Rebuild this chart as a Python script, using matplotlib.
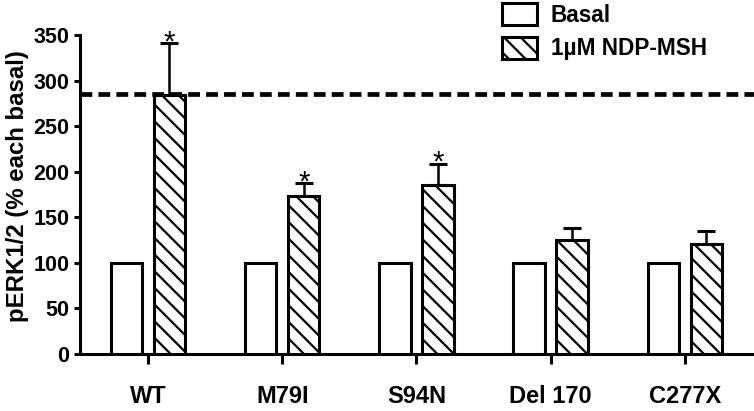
import matplotlib
matplotlib.use("Agg")
import matplotlib.pyplot as plt
import numpy as np

categories = ["WT", "M79I", "S94N", "Del 170", "C277X"]
basal = [100, 100, 100, 100, 100]
ndp = [284, 173, 185, 125, 121]
ndp_err = [57, 15, 24, 13, 14]
significant = [True, True, True, False, False]
reference_line = 285
y_ticks = [0, 50, 100, 150, 200, 250, 300, 350]

plt.rcParams['font.family'] = ['Liberation Sans', 'DejaVu Sans']
plt.rcParams['font.weight'] = 'bold'
plt.rcParams['hatch.linewidth'] = 1.6

W, H, DPI = 754, 411, 100
fig = plt.figure(figsize=(W / DPI, H / DPI), dpi=DPI)
ax = fig.add_axes([80 / W, 57 / H, 674 / W, 319 / H])

x = np.arange(len(categories))
bw = 0.235
off = 0.16
lw = 2.2

ax.bar(x - off, basal, bw, color='white', edgecolor='black', linewidth=lw,
       label='Basal', zorder=3)
ax.bar(x + off, ndp, bw, color='white', edgecolor='black', linewidth=lw,
       hatch='\\\\', label='1\u00b5M NDP-MSH', zorder=3)
ax.errorbar(x + off, ndp, yerr=[np.zeros(len(ndp)), ndp_err], fmt='none',
            ecolor='black', elinewidth=1.8, capsize=6.8, capthick=2.2, zorder=2,
            clip_on=False)

for xi, v, e, s in zip(x, ndp, ndp_err, significant):
    if s:
        ax.annotate('*', xy=(xi + off, v + e), xytext=(0, -5.4),
                    textcoords='offset points', ha='center', va='baseline',
                    fontsize=21, fontweight='normal', annotation_clip=False)

ax.axhline(reference_line, color='black', linewidth=3.4,
           linestyle=(0, (2.5, 1.3)), zorder=4)

ax.set_xlim(-0.506, 4.514)
ax.set_ylim(0, 350)
ax.set_yticks(y_ticks)
ax.set_xticks(x)
ax.set_xticklabels(categories, fontsize=17, fontweight='bold')
ax.tick_params(axis='x', length=7, width=2.2, pad=15)
ax.tick_params(axis='y', length=4.5, width=2.2, pad=3, labelsize=15.5)
for lab in ax.get_yticklabels():
    lab.set_fontweight('bold')

for s in ['top', 'right']:
    ax.spines[s].set_visible(False)
for s in ['left', 'bottom']:
    ax.spines[s].set_linewidth(2.2)

fig.text(18 / W, 1 - 186 / H, 'pERK1/2 (% each basal)', rotation=90,
         ha='center', va='center', fontsize=17.3, fontweight='bold')

fs_leg = 16.3
px = fs_leg * DPI / 72
leg = ax.legend(loc='upper left', bbox_to_anchor=(502 / W, 1 - 3 / H),
                bbox_transform=fig.transFigure, frameon=False, fontsize=fs_leg,
                handlelength=35 / px, handleheight=25 / px,
                handletextpad=14 / px,
                labelspacing=0.45, borderpad=0, borderaxespad=0)
for t in leg.get_texts():
    t.set_fontweight('bold')

fig.savefig('out.png', dpi=DPI)
